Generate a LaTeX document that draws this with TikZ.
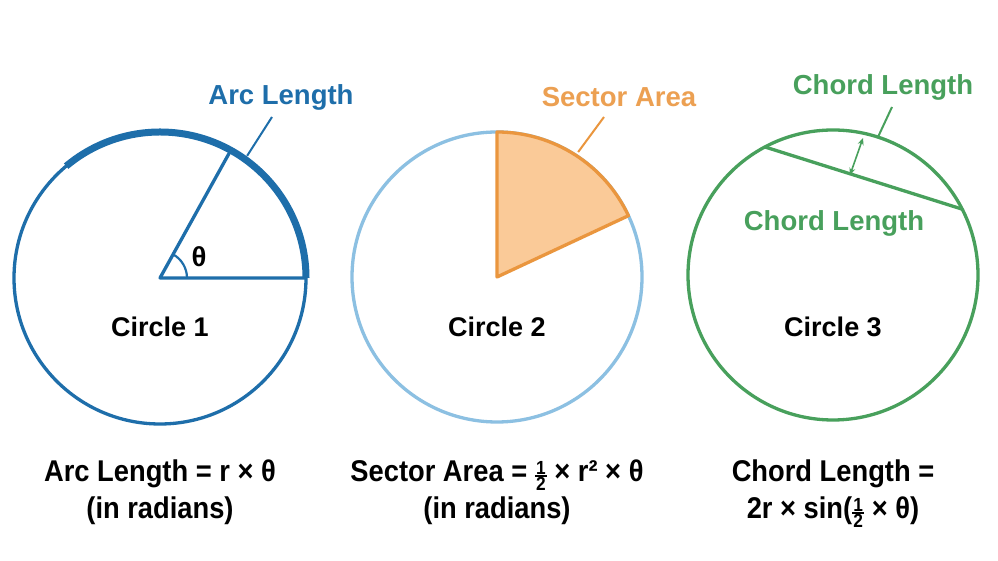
\documentclass[tikz,border=0pt]{standalone}
\usepackage{fontspec}
\setmainfont{Liberation Sans}
\newfontfamily\condfont[FakeStretch=0.91]{Liberation Sans}
\usetikzlibrary{arrows.meta}
\definecolor{cblue}{RGB}{30,110,170}
\definecolor{clight}{RGB}{140,192,226}
\definecolor{corange}{RGB}{236,160,82}
\definecolor{cofill}{RGB}{250,202,152}
\definecolor{coedge}{RGB}{234,150,62}
\definecolor{cgreen}{RGB}{72,160,92}
\newcommand{\myhalf}{\smash{\raisebox{-9pt}{\bfseries\fontsize{19}{19}\selectfont\vbox{\offinterlineskip\halign{\hfil##\hfil\cr 1\cr\noalign{\kern1pt}\rule{12pt}{1.5pt}\cr\noalign{\kern1pt}2\cr}}}}}
\begin{document}
\begin{tikzpicture}[x=1pt,y=1pt,
  lbl/.style={font=\fontsize{27.5}{30}\selectfont\bfseries, inner sep=0pt},
  clbl/.style={font=\fontsize{27}{30}\selectfont\bfseries, inner sep=0pt},
  fml/.style={font=\fontsize{30}{34}\selectfont\condfont\bfseries, inner sep=0pt, anchor=base},
  leader/.style={line width=2pt}]
\useasboundingbox[fill=white] (0,0) rectangle (998,561);
% ---------- Circle 1 ----------
\coordinate (o1) at (160,283);
\draw[cblue, line width=3.3pt] (o1) circle[radius=146];
\draw[cblue, line width=7pt] ([shift={(0:146)}]o1) arc[start angle=0, end angle=130, radius=146];
\draw[cblue, line width=3.3pt, line join=round] ([shift={(61:146)}]o1) -- (o1) -- ([shift={(0:146)}]o1);
\draw[cblue, line width=2.2pt] ([shift={(0:27)}]o1) arc[start angle=0, end angle=61, radius=27];
\node[lbl] (th) at (199,304) {θ};
\node[lbl, text=cblue] (arclbl) at (281,464) {Arc Length};
\coordinate (a1) at ([shift={(54.5:150)}]o1);
\coordinate (a2) at (272,444);
\draw[cblue, leader] (a1) -- (a2);
\node[clbl] (c1) at (160,234) {Circle 1};
% ---------- Circle 2 ----------
\coordinate (o2) at (497,284);
\draw[clight, line width=3.3pt] (o2) circle[radius=145];
\draw[coedge, fill=cofill, line width=3.3pt, line join=round] (o2) -- ([shift={(25:145)}]o2) arc[start angle=25, end angle=90, radius=145] -- cycle;
\node[lbl, text=corange] (seclbl) at (619,464) {Sector Area};
\coordinate (s1) at ([shift={(57:149)}]o2);
\coordinate (s2) at (604,444);
\draw[coedge, leader] (s1) -- (s2);
\node[clbl] (c2) at (497,234) {Circle 2};
% ---------- Circle 3 ----------
\coordinate (o3) at (833,286);
\draw[cgreen, line width=3.3pt] (o3) circle[radius=145];
\draw[cgreen, line width=3.3pt] ([shift={(118:145)}]o3) -- ([shift={(27:145)}]o3);
\coordinate (d1) at (850,386);
\coordinate (d2) at (863,423);
\draw[cgreen, line width=1.6pt, {Stealth[length=7pt,width=6pt]}-{Stealth[length=7pt,width=6pt]}] (d1) -- (d2);
\coordinate (g1) at (878,424);
\coordinate (g2) at (892,454);
\draw[cgreen, leader] (g1) -- (g2);
\node[lbl, text=cgreen] (chordtop) at (883,474) {Chord Length};
\node[lbl, text=cgreen] (chordin) at (834,338) {Chord Length};
\node[clbl] (c3) at (833,234) {Circle 3};
% ---------- Formulas ----------
\node[fml] (f1a) at (160,79) {Arc Length = r × θ};
\node[fml] (f1b) at (160,42) {(in radians)};
\node[fml] (f2a) at (497,79) {Sector Area = \myhalf{} × r² × θ};
\node[fml] (f2b) at (497,42) {(in radians)};
\node[fml] (f3a) at (833,79) {Chord Length =};
\node[fml] (f3b) at (833,42) {2r × sin(\myhalf{} × θ)};
\end{tikzpicture}
\end{document}
